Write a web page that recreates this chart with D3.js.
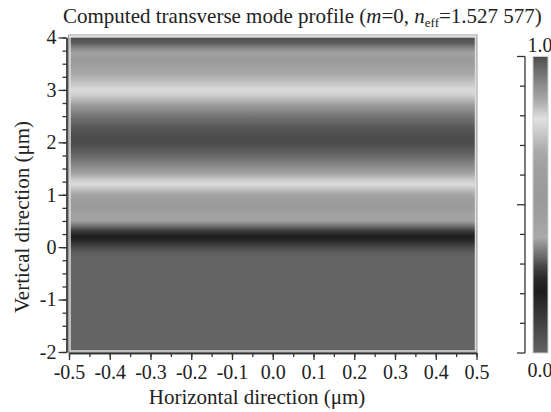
<!DOCTYPE html>
<html>
<head>
<meta charset="utf-8">
<style>
  body { margin: 0; font-family: 'Liberation Serif', 'Times New Roman', Times; }
  svg, svg text, svg tspan { font-family: 'Liberation Serif', 'Times New Roman', Times !important; }
</style>
<script src="https://cdn.jsdelivr.net/npm/d3@7"></script>
</head>
<body>
<div id="chart"></div>
<script>
// sampled rows of the mode profile: vertical position (µm) and normalised field
var rowY = [-2.0, -0.2, -0.1, 0.0, 0.1, 0.2, 0.3, 0.4, 0.5, 0.6, 0.7, 0.8, 0.9,
            1.0, 1.1, 1.2, 1.3, 1.4, 1.5, 1.6, 1.7, 1.8, 1.9, 2.0, 2.1, 2.2,
            2.3, 2.4, 2.5, 2.6, 2.7, 2.8, 2.9, 3.0, 3.1, 3.2, 3.3, 3.4, 3.5,
            3.6, 3.7, 3.8, 3.9, 4.0];
var rowValue = [0.00, 0.00, 0.02, 0.08, 0.16, 0.21, 0.27, 0.33, 0.38, 0.43, 0.48, 0.53, 0.58,
                0.65, 0.72, 0.78, 0.82, 0.86, 0.89, 0.92, 0.95, 0.97, 0.99, 1.00, 1.00, 0.99,
                0.98, 0.96, 0.94, 0.91, 0.88, 0.84, 0.81, 0.78, 0.74, 0.71, 0.68, 0.64, 0.59,
                0.52, 0.44, 0.355, 0.31, 0.30];

// grey colour map
var cmapStops = [0.00, 0.07, 0.14, 0.21, 0.25, 0.29, 0.32, 0.36, 0.39, 0.45, 0.52,
                 0.57, 0.63, 0.68, 0.74, 0.79, 0.85, 0.91, 0.96, 1.00];
var cmapGray  = [100, 76, 52, 28, 40, 68, 102, 138, 170, 160, 154,
                 156, 160, 170, 200, 225, 170, 136, 104, 76];

var xTicks = [-0.5, -0.4, -0.3, -0.2, -0.1, 0.0, 0.1, 0.2, 0.3, 0.4, 0.5];
var xLabels = ['-0.5', '-0.4', '-0.3', '-0.2', '-0.1', '0.0', '0.1', '0.2', '0.3', '0.4', '0.5'];
var yTicks = [-2, -1, 0, 1, 2, 3, 4];
var yLabels = ['-2', '-1', '0', '1', '2', '3', '4'];
var barTicks = [0, 0.1, 0.2, 0.3, 0.4, 0.5, 0.6, 0.7, 0.8, 0.9, 1.0];
var barLabels = ['0.0', '1.0'];

var INK = '#333';

var svg = d3.select('#chart').append('svg')
    .attr('width', 551).attr('height', 412);

var x = d3.scaleLinear().domain([-0.5, 0.5]).range([69, 476.5]);
var y = d3.scaleLinear().domain([-2, 4]).range([352, 37.5]);
var c = d3.scaleLinear().domain([0, 1]).range([353, 56.5]);

var grayScale = d3.scaleLinear().domain(cmapStops).range(cmapGray);
function cmap(v) { var g = Math.round(grayScale(v)); return d3.rgb(g, g, g).toString(); }

function label(sel, size) {
    return sel.attr('font-size', size).attr('fill', '#222');
}
function inkAxis(g) {
    g.attr('font-family', null).attr('font-size', null);
    g.selectAll('path, line').attr('stroke', INK).attr('stroke-width', 1.3);
}

var defs = svg.append('defs');

// heat map: field depends only on the vertical position (stops top to bottom)
var grad = defs.append('linearGradient')
    .attr('id', 'field')
    .attr('gradientUnits', 'userSpaceOnUse')
    .attr('x1', 0).attr('x2', 0)
    .attr('y1', y(4)).attr('y2', y(-2));
grad.selectAll('stop')
    .data(rowY.map(function(d, i) { return {y: d, v: rowValue[i]}; }).reverse())
  .enter().append('stop')
    .attr('offset', function(d) { return (y(d.y) - y(4)) / (y(-2) - y(4)); })
    .attr('stop-color', function(d) { return cmap(d.v); });

svg.append('rect')
    .attr('x', x(-0.5)).attr('y', y(4))
    .attr('width', x(0.5) - x(-0.5)).attr('height', y(-2) - y(4))
    .attr('fill', 'url(#field)');

// light double frame round the map
svg.append('rect')
    .attr('x', x(-0.5) - 0.5).attr('y', y(4) - 2.5)
    .attr('width', x(0.5) - x(-0.5) + 1).attr('height', y(-2) - y(4) + 3)
    .attr('fill', 'none').attr('stroke', '#999').attr('stroke-width', 1);
svg.append('rect')
    .attr('x', x(-0.5) + 1).attr('y', y(4) - 1)
    .attr('width', x(0.5) - x(-0.5) - 2).attr('height', y(-2) - y(4))
    .attr('fill', 'none').attr('stroke', '#ddd').attr('stroke-width', 1.5);

// left axis, minor ticks then labelled ones
var yMinor = d3.range(-2, 4.001, 0.25);
svg.append('g')
    .attr('transform', 'translate(' + (x(-0.5) - 2.5) + ',0)')
    .call(d3.axisLeft(y).tickValues(yMinor).tickSize(4).tickSizeOuter(0).tickFormat(''))
    .call(inkAxis);
svg.append('g')
    .attr('transform', 'translate(' + (x(-0.5) - 2.5) + ',0)')
    .call(d3.axisLeft(y).tickValues(yTicks).tickSize(8).tickSizeOuter(0)
        .tickFormat(function(d, i) { return yLabels[i]; }))
    .call(inkAxis)
    .call(function(g) { label(g.selectAll('text'), 20).attr('x', -10); });

// bottom axis
var xMinor = d3.range(-0.5, 0.501, 0.05);
svg.append('g')
    .attr('transform', 'translate(0,' + (y(-2) + 1) + ')')
    .call(d3.axisBottom(x).tickValues(xMinor).tickSize(4).tickSizeOuter(0).tickFormat(''))
    .call(inkAxis);
svg.append('g')
    .attr('transform', 'translate(0,' + (y(-2) + 1) + ')')
    .call(d3.axisBottom(x).tickValues(xTicks).tickSize(7).tickSizeOuter(0)
        .tickFormat(function(d, i) { return xLabels[i]; }))
    .call(inkAxis)
    .call(function(g) { label(g.selectAll('text'), 20).attr('y', 12); });

// axis titles
label(svg.append('text'), 21)
    .attr('x', 257).attr('y', 404)
    .attr('text-anchor', 'middle')
    .text('Horizontal direction (μm)');
label(svg.append('text'), 21)
    .attr('transform', 'translate(29,' + 217 + ') rotate(-90)')
    .attr('text-anchor', 'middle')
    .text('Vertical direction (μm)');

// title
var title = label(svg.append('text'), 21)
    .attr('x', 63).attr('y', 23);
title.append('tspan').text('Computed transverse mode profile (');
title.append('tspan').attr('font-style', 'italic').text('m');
title.append('tspan').text('=0, ');
title.append('tspan').attr('font-style', 'italic').text('n');
title.append('tspan').attr('font-size', 13).attr('dy', 4).text('eff');
title.append('tspan').attr('dy', -4).text('=1.527 577)');

// colour bar (stops from top = 1 down to 0)
var barGrad = defs.append('linearGradient')
    .attr('id', 'cbar')
    .attr('gradientUnits', 'userSpaceOnUse')
    .attr('x1', 0).attr('x2', 0)
    .attr('y1', c(1)).attr('y2', c(0));
barGrad.selectAll('stop')
    .data(cmapStops.slice().reverse())
  .enter().append('stop')
    .attr('offset', function(d) { return (c(d) - c(1)) / (c(0) - c(1)); })
    .attr('stop-color', function(d) { return cmap(d); });

svg.append('rect')
    .attr('x', 533).attr('y', c(1))
    .attr('width', 15).attr('height', c(0) - c(1))
    .attr('fill', 'url(#cbar)')
    .attr('stroke', '#ccc').attr('stroke-width', 1);

var barAxis = svg.append('g')
    .attr('transform', 'translate(525,0)');
barAxis.append('line')
    .attr('x1', 0).attr('x2', 0)
    .attr('y1', c(1)).attr('y2', c(0));
barAxis.selectAll('.tk')
    .data(barTicks)
  .enter().append('line')
    .attr('class', 'tk')
    .attr('x1', function(d, i) { return (i === 0 || i === 5 || i === 10) ? -8 : -5; })
    .attr('x2', 0)
    .attr('y1', function(d) { return c(d); })
    .attr('y2', function(d) { return c(d); });
barAxis.selectAll('line').attr('stroke', INK).attr('stroke-width', 1.3);

label(svg.append('text'), 20)
    .attr('x', 540).attr('y', 52)
    .attr('text-anchor', 'middle')
    .text(barLabels[1]);
label(svg.append('text'), 20)
    .attr('x', 540).attr('y', 377)
    .attr('text-anchor', 'middle')
    .text(barLabels[0]);
</script>
</body>
</html>
